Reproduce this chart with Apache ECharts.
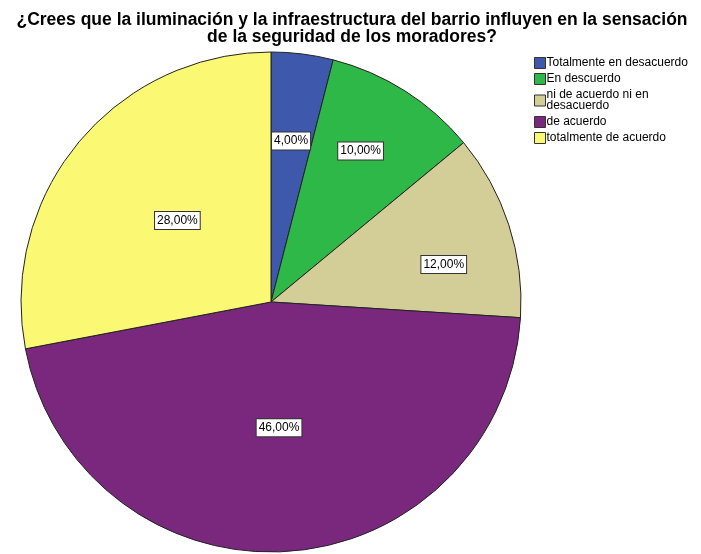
<!DOCTYPE html>
<html>
<head>
<meta charset="utf-8">
<script src="https://cdn.jsdelivr.net/npm/echarts@6/dist/echarts.min.js"></script>
<style>
  html, body { margin: 0; padding: 0; background: #fff; }
  #chart { width: 701px; height: 554px; }
</style>
</head>
<body>
<div id="chart"></div>
<script>
const categories = [
  "Totalmente en desacuerdo",
  "En descuerdo",
  "ni de acuerdo ni en\ndesacuerdo",
  "de acuerdo",
  "totalmente de acuerdo"
];
const percents = [4, 10, 12, 46, 28];
const colors = ["#3E58AC", "#2EB848", "#D3CE97", "#79287D", "#FBF873"];

// SPSS puts the labels of the small slices further out
const labelShift = [[4, -34], [21, -43], [51, 2], [0, -2], [5, 0]];

const chart = echarts.init(document.getElementById("chart"));

const option = {
  animation: false,
  title: {
    text: "¿Crees que la iluminación y la infraestructura del barrio influyen en la sensación\nde la seguridad de los moradores?",
    left: 347,
    top: 7,
    textAlign: "center",
    textStyle: {
      fontFamily: "Liberation Sans",
      fontSize: 17.5,
      fontWeight: "bold",
      color: "#000",
      lineHeight: 17
    }
  },
  legend: {
    orient: "vertical",
    left: 529,
    top: 52,
    itemWidth: 11,
    itemHeight: 11,
    itemGap: 4,
    selectedMode: false,
    icon: "rect",
    itemStyle: { borderColor: "#333", borderWidth: 1 },
    textStyle: { fontFamily: "Liberation Sans", fontSize: 12, color: "#000", lineHeight: 11, padding: [0, 0, 0, -4] },
    data: categories
  },
  series: [
    {
      type: "pie",
      center: [271, 302],
      radius: [0, 250],
      startAngle: 90,
      clockwise: true,
      avoidLabelOverlap: false,
      itemStyle: { borderColor: "#222", borderWidth: 1 },
      label: {
        position: "inside",
        fontFamily: "Liberation Sans",
        fontSize: 12,
        color: "#000",
        backgroundColor: "#fff",
        borderColor: "#333",
        borderWidth: 1,
        padding: [3, 2, 2, 2],
        formatter: (p) => p.value.toFixed(2).replace(".", ",") + "%"
      },
      labelLine: { show: false },
      emphasis: { disabled: true },
      data: categories.map((name, i) => ({
        name: name,
        value: percents[i],
        itemStyle: { color: colors[i] },
        label: { offset: labelShift[i] }
      }))
    }
  ]
};

chart.setOption(option);
</script>
</body>
</html>
